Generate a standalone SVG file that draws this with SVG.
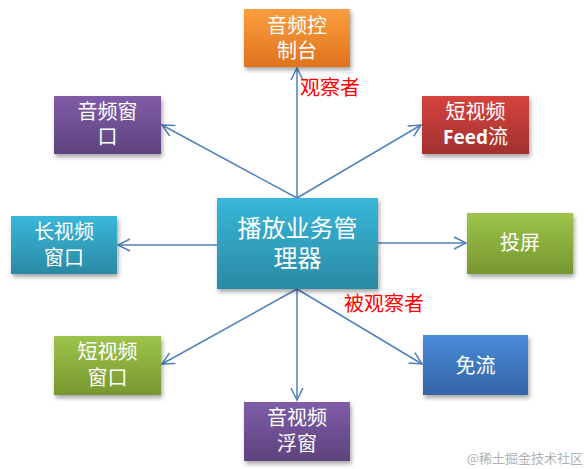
<svg xmlns="http://www.w3.org/2000/svg" width="588" height="469" viewBox="0 0 588 469">
<style>
.t{font-family:"Noto Sans CJK SC","Noto Sans",sans-serif;fill:#fff;text-anchor:middle;font-size:20px}
.big{font-size:24px}
.lbl{font-family:"Noto Sans CJK SC",sans-serif;fill:#ff0000;font-size:20px}
.c line{stroke:#4F81BD;stroke-width:1.5;marker-end:url(#a)}
.wm{font-family:"Noto Sans CJK SC",sans-serif;fill:#b0b0b0;font-size:13px}
</style>
<defs>
<marker id="a" markerUnits="userSpaceOnUse" markerWidth="16" markerHeight="14" refX="13" refY="7" orient="auto" viewBox="0 0 16 14">
<path d="M1,1 L13,7 L1,13" fill="none" stroke="#4F81BD" stroke-width="1.5"/>
</marker>
<filter id="sh" x="-10%" y="-10%" width="130%" height="140%">
<feDropShadow dx="1.5" dy="3" stdDeviation="2" flood-color="#000" flood-opacity="0.35"/>
</filter>
<linearGradient id="go" x1="0" y1="0" x2="0" y2="1"><stop offset="0" stop-color="#FA9E3E"/><stop offset="1" stop-color="#E0731F"/></linearGradient>
<linearGradient id="gp" x1="0" y1="0" x2="0" y2="1"><stop offset="0" stop-color="#7F5CA7"/><stop offset="1" stop-color="#5E437E"/></linearGradient>
<linearGradient id="gr" x1="0" y1="0" x2="0" y2="1"><stop offset="0" stop-color="#D5443F"/><stop offset="1" stop-color="#A2302E"/></linearGradient>
<linearGradient id="gt" x1="0" y1="0" x2="0" y2="1"><stop offset="0" stop-color="#38B7D9"/><stop offset="1" stop-color="#2A8AA4"/></linearGradient>
<linearGradient id="gg" x1="0" y1="0" x2="0" y2="1"><stop offset="0" stop-color="#9DC44A"/><stop offset="1" stop-color="#77972F"/></linearGradient>
<linearGradient id="gb" x1="0" y1="0" x2="0" y2="1"><stop offset="0" stop-color="#4A8BDB"/><stop offset="1" stop-color="#3465A6"/></linearGradient>
</defs>
<rect width="588" height="469" fill="#fff"/>
<g class="c" id="connectors">
<line x1="297" y1="198" x2="297" y2="68"/>
<line x1="297" y1="198" x2="162" y2="125"/>
<line x1="297" y1="198" x2="421" y2="125"/>
<line x1="217" y1="245" x2="118" y2="245"/>
<line x1="378" y1="243" x2="466" y2="243"/>
<line x1="297" y1="289" x2="162" y2="364"/>
<line x1="297" y1="289" x2="297" y2="400"/>
<line x1="297" y1="289" x2="422" y2="364"/>
</g>
<g id="n-audio-ctrl"><rect x="244" y="9" width="106" height="58" fill="url(#go)" filter="url(#sh)"/><text class="t" x="297" y="33">音频控<tspan x="297" dy="25">制台</tspan></text></g>
<g id="n-audio-win"><rect x="54" y="96" width="107" height="58" fill="url(#gp)" filter="url(#sh)"/><text class="t" x="107.500" y="119">音频窗<tspan x="107.500" dy="25">口</tspan></text></g>
<g id="n-feed"><rect x="422" y="96" width="107" height="58" fill="url(#gr)" filter="url(#sh)"/><text class="t" x="475.500" y="119">短视频<tspan x="475.500" dy="25"><tspan font-family="Open Sans, sans-serif" font-weight="bold" font-size="19">Feed</tspan>流</tspan></text></g>
<g id="n-long"><rect x="11" y="216" width="106" height="58" fill="url(#gt)" filter="url(#sh)"/><text class="t" x="64" y="239">长视频<tspan x="64" dy="26">窗口</tspan></text></g>
<g id="n-center"><rect x="217" y="198" width="161" height="91" fill="url(#gt)" filter="url(#sh)"/><text class="t big" x="297.500" y="237">播放业务管<tspan x="297.500" dy="30">理器</tspan></text></g>
<g id="n-cast"><rect x="467" y="213" width="106" height="61" fill="url(#gg)" filter="url(#sh)"/><text class="t" x="520" y="250">投屏</text></g>
<g id="n-short-win"><rect x="54" y="336" width="107" height="59" fill="url(#gg)" filter="url(#sh)"/><text class="t" x="107.500" y="359">短视频<tspan x="107.500" dy="26">窗口</tspan></text></g>
<g id="n-free"><rect x="423" y="335" width="105" height="60" fill="url(#gb)" filter="url(#sh)"/><text class="t" x="475.500" y="373">免流</text></g>
<g id="n-float"><rect x="244" y="402" width="106" height="59" fill="url(#gp)" filter="url(#sh)"/><text class="t" x="297" y="425">音视频<tspan x="297" dy="26">浮窗</tspan></text></g>
<text class="lbl" x="300" y="95">观察者</text>
<text class="lbl" x="344" y="311">被观察者</text>
<text class="wm" x="583" y="463" text-anchor="end">@稀土掘金技术社区</text>
</svg>
